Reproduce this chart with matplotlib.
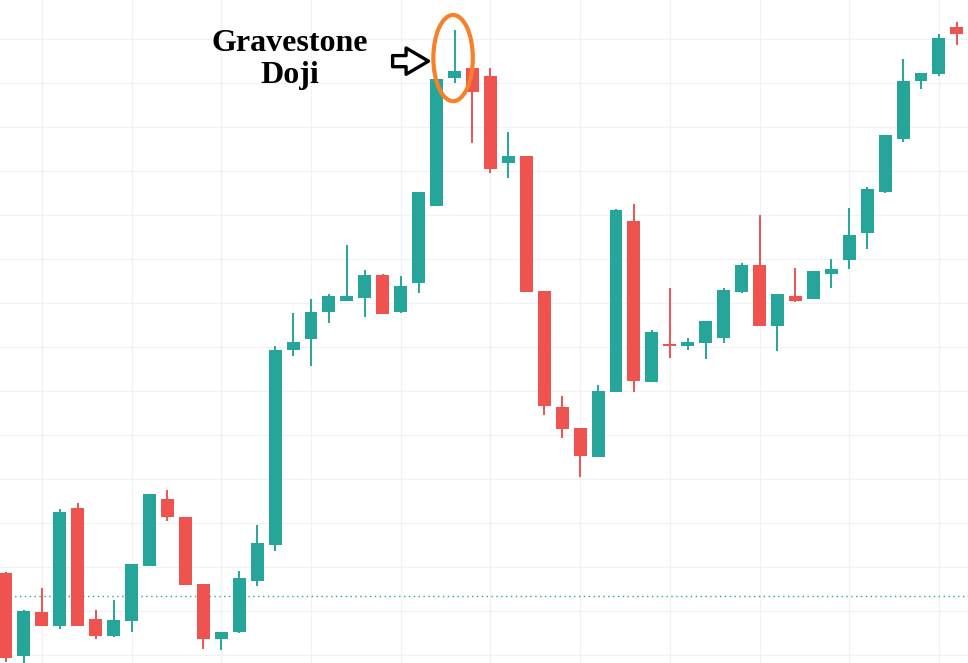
import matplotlib as mpl
mpl.use("Agg")
import matplotlib.pyplot as plt
from matplotlib.patches import Ellipse, Rectangle
import numpy as np

# OHLC values (arbitrary price units)
opens = [118.6, 99.8, 109.8, 106.6, 133.4, 108.2, 104.3, 107.7, 120.2, 135.5,
         131.4, 116.1, 103.6, 105.2, 116.8, 125.0, 169.3, 171.8, 178.0, 180.5,
         181.1, 186.4, 178.0, 184.5, 202.0, 231.1, 233.4, 231.6, 211.8, 213.4,
         182.7, 156.4, 151.6, 145.0, 159.8, 198.6, 162.0, 170.7, 170.2, 170.9,
         172.0, 182.5, 188.6, 174.8, 181.6, 180.9, 186.6, 189.8, 195.9, 205.2,
         217.3, 230.5, 232.0, 242.7]
highs = [118.9, 110.2, 115.2, 133.2, 134.5, 110.2, 112.5, 120.7, 136.6, 137.5,
         131.4, 116.1, 105.2, 119.1, 129.5, 170.2, 177.7, 180.9, 182.0, 193.2,
         187.5, 186.6, 186.1, 205.2, 230.9, 242.0, 233.4, 233.4, 218.9, 213.4,
         182.7, 158.9, 151.6, 161.4, 201.4, 202.5, 173.9, 183.4, 172.0, 175.9,
         183.4, 189.1, 200.0, 182.0, 188.0, 187.3, 190.0, 201.6, 206.4, 218.2,
         235.5, 232.3, 241.1, 243.9]
lows = [98.4, 98.0, 106.6, 105.9, 106.6, 103.6, 104.1, 105.2, 120.2, 130.5,
        115.9, 101.4, 101.1, 105.0, 115.7, 123.6, 168.0, 165.7, 175.5, 180.5,
        176.8, 177.5, 177.7, 182.3, 202.0, 230.0, 216.4, 209.5, 208.4, 182.5,
        154.5, 149.3, 140.5, 145.0, 159.8, 159.8, 162.0, 167.5, 169.3, 167.3,
        170.9, 182.3, 174.8, 169.1, 180.2, 180.9, 183.4, 187.7, 192.3, 205.0,
        216.6, 228.6, 231.6, 238.6]
closes = [99.3, 110.0, 106.6, 132.5, 106.6, 104.3, 108.0, 120.7, 136.6, 131.4,
          115.9, 103.6, 105.2, 117.5, 125.5, 169.3, 171.1, 178.0, 181.6, 181.6,
          186.4, 177.5, 183.9, 205.2, 230.9, 232.7, 228.0, 210.5, 213.4, 182.5,
          156.6, 151.4, 145.2, 160.0, 201.1, 162.3, 173.4, 170.2, 171.1, 175.9,
          183.0, 188.6, 174.8, 182.0, 180.5, 187.3, 187.7, 195.5, 205.9, 218.2,
          230.5, 232.3, 240.2, 241.1]
ref_level = 113.4
doji_index = 25
label_text = "Gravestone\nDoji"

up_color = "#26a69a"
down_color = "#ef5350"
grid_color = "#f1f2f5"

fig = plt.figure(figsize=(9.68, 6.63), dpi=100)
ax = fig.add_axes([0, 0, 1, 1])

x = np.arange(len(opens))
width = 0.72
for i in x:
    o, h, l, c = opens[i], highs[i], lows[i], closes[i]
    col = up_color if c >= o else down_color
    ax.vlines(i, l, h, color=col, linewidth=1.4, zorder=3)
    bottom = min(o, c)
    height = max(abs(c - o), 0.6)
    ax.add_patch(Rectangle((i - width / 2, bottom), width, height,
                           facecolor=col, edgecolor="none", zorder=4))

# grid
for gx in range(2, len(opens), 5):
    ax.axvline(gx, color=grid_color, linewidth=0.9, zorder=0)
for gy in range(100, 250, 10):
    ax.axhline(gy, color=grid_color, linewidth=0.9, zorder=0)

ax.axhline(ref_level, color=up_color, linewidth=1, linestyle=(0, (1, 2.5)), zorder=2)

# annotation
ax.add_patch(Ellipse((doji_index - 0.08, 235.7), 2.2, 19.6, facecolor="none",
                     edgecolor="#f7812a", linewidth=3, zorder=6))
ax.annotate("", xy=(23.55, 235.0), xytext=(21.55, 235.0),
            arrowprops=dict(arrowstyle="simple,head_width=1.0,head_length=0.85,tail_width=0.42",
                            mutation_scale=19, shrinkA=0, shrinkB=0,
                            facecolor="white", edgecolor="black", linewidth=2.4),
            zorder=6)
ax.text(15.83, 235.4, label_text, ha="center", va="center", fontsize=23,
        fontweight="bold", family="Liberation Serif", linespacing=1.15, zorder=6)

ax.set_xlim(-0.334, 53.62)
ax.set_ylim(98.2, 248.9)
for s in ax.spines.values():
    s.set_visible(False)
ax.set_xticks([])
ax.set_yticks([])

plt.savefig("out.png", dpi=100)
